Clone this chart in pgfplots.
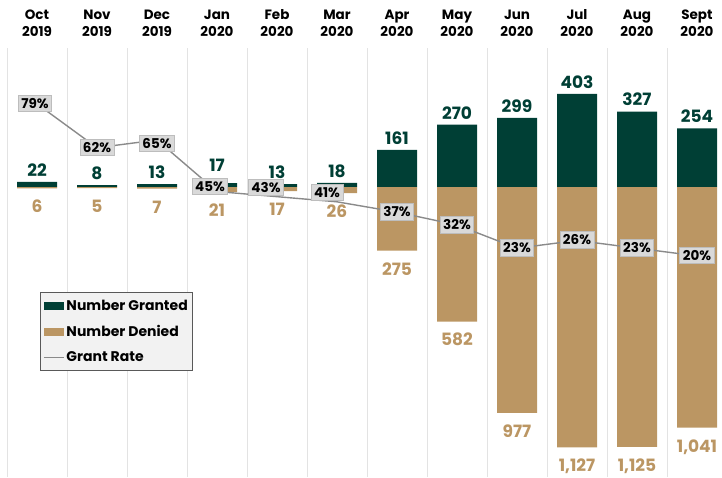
\documentclass[border=0pt]{standalone}
\usepackage{pgfplots}
\pgfplotsset{compat=1.18}
\usepackage{pgfplotstable}
\usepackage{fontspec}
\setmainfont{Poppins}
\definecolor{grantcol}{HTML}{003F35}
\definecolor{denycol}{HTML}{BB9663}
\definecolor{ratecol}{HTML}{8A8A8A}
\definecolor{boxfill}{HTML}{D9D9D9}
\definecolor{boxdraw}{HTML}{BDBDBD}
\definecolor{gridcol}{HTML}{E3E3E3}
\definecolor{legfill}{HTML}{F2F2F2}

\pgfplotstableread{
x granted denied
0 22 6
1 8 5
2 13 7
3 17 21
4 13 17
5 18 26
6 161 275
7 270 582
8 299 977
9 403 1127
10 327 1125
11 254 1041
}\bardata

\pgfplotstableread{
x rate
0 79
1 62
2 65
3 45
4 43
5 41
6 37
7 32
8 23
9 26
10 23
11 20
}\ratedata

\pgfplotsset{
  grantleg/.style={legend image code/.code={\fill[grantcol] (0pt,-4pt) rectangle (20pt,4pt);}},
  denyleg/.style={legend image code/.code={\fill[denycol] (0pt,-4pt) rectangle (20pt,4pt);}},
  rateleg/.style={legend image code/.code={\draw[ratecol, line width=1.3pt] (0pt,0pt) -- (20pt,0pt);}},
  ratelab/.style={only marks, mark=none, point meta=y,
    nodes near coords={\pgfmathprintnumber{\pgfplotspointmeta}\%}},
}
\tikzset{
  ratebox/.style={fill=boxfill, draw=boxdraw, line width=0.8pt, text=black,
    font=\bfseries\fontsize{13.5}{13.5}\selectfont, inner xsep=3pt, inner ysep=3.5pt,
    text height=9.6pt, text depth=0pt},
  grantlab/.style={font=\bfseries\fontsize{17}{17}\selectfont, text=grantcol},
}

\begin{document}
\begin{tikzpicture}
\begin{axis}[
  at={(7pt,0pt)}, anchor=south west,
  scale only axis, width=715pt, height=429pt,
  xmin=-0.5, xmax=11.4167, ymin=-1255, ymax=602,
  axis line style={draw=none},
  major tick length=0pt, minor tick length=0pt,
  ytick=\empty,
  xtick={0,...,11},
  xticklabels={{Oct\\2019},{Nov\\2019},{Dec\\2019},{Jan\\2020},{Feb\\2020},{Mar\\2020},{Apr\\2020},{May\\2020},{Jun\\2020},{Jul\\2020},{Aug\\2020},{Sept\\2020}},
  xticklabel pos=right,
  xticklabel style={align=center, font=\bfseries\fontsize{13.5}{17}\selectfont, yshift=8pt},
  minor xtick={-0.5,0.5,...,10.5},
  xminorgrids=true,
  minor x grid style={gridcol, line width=1pt},
  /pgf/number format/assume math mode=true,
  /pgf/number format/1000 sep={,},
  legend style={at={(0.046,0.431)}, anchor=north west, fill=legfill, draw=black!65,
    line width=0.6pt, font=\bfseries\fontsize{14}{14}\selectfont, row sep=9.5pt,
    inner xsep=3pt, inner ysep=5.5pt},
  legend cell align=left,
]
\addplot[ybar, bar width=40pt, bar shift=0pt, fill=grantcol, draw=none, grantleg]
  table[x=x, y=granted] {\bardata};
\addlegendentry{Number Granted}
\addplot[ybar, bar width=40pt, bar shift=0pt, fill=denycol, draw=none, denyleg,
  nodes near coords, point meta=explicit,
  nodes near coords style={font=\bfseries\fontsize{17}{17}\selectfont, text=denycol,
    text height=12pt, text depth=0pt, yshift=-28pt}]
  table[x=x, y expr=-\thisrow{denied}, meta=denied] {\bardata};
\addlegendentry{Number Denied}
\addlegendimage{rateleg}
\addlegendentry{Grant Rate}
\addplot[forget plot, only marks, mark=none, point meta=explicit, nodes near coords,
  skip coords between index={3}{4},
  nodes near coords style={grantlab, yshift=2pt}]
  table[x=x, y=granted, meta=granted] {\bardata};
\addplot[forget plot, only marks, mark=none, point meta=explicit, nodes near coords,
  restrict x to domain=2.9:3.1,
  nodes near coords style={grantlab, yshift=8pt}]
  table[x=x, y=granted, meta=granted] {\bardata};
\end{axis}
\begin{axis}[
  at={(7pt,0pt)}, anchor=south west,
  scale only axis, width=715pt, height=429pt,
  xmin=-0.5, xmax=11.4167, ymin=-65.8, ymax=100.7,
  hide axis,
  /pgf/number format/assume math mode=true,
]
\addplot[ratecol, line width=1.4pt, mark=none] table[x=x, y=rate] {\ratedata};
\addplot[ratelab, nodes near coords style={ratebox, yshift=-8.3pt, xshift=-2pt}]
  coordinates {(0,79)};
\addplot[ratelab, nodes near coords style={ratebox, yshift=-8.3pt}]
  coordinates {(1,62) (6,37) (7,32) (8,23) (9,26) (10,23) (11,20)};
\addplot[ratelab, nodes near coords style={ratebox, yshift=-12.3pt}]
  coordinates {(2,65)};
\addplot[ratelab, nodes near coords style={ratebox, yshift=-3.7pt, xshift=-7pt}]
  coordinates {(3,45)};
\addplot[ratelab, nodes near coords style={ratebox, yshift=0.4pt, xshift=-11pt}]
  coordinates {(4,43)};
\addplot[ratelab, nodes near coords style={ratebox, yshift=0.7pt, xshift=-10pt}]
  coordinates {(5,41)};
\end{axis}
\pgfresetboundingbox
\path[use as bounding box] (0,0) rectangle (722pt,477pt);
\end{tikzpicture}
\end{document}
